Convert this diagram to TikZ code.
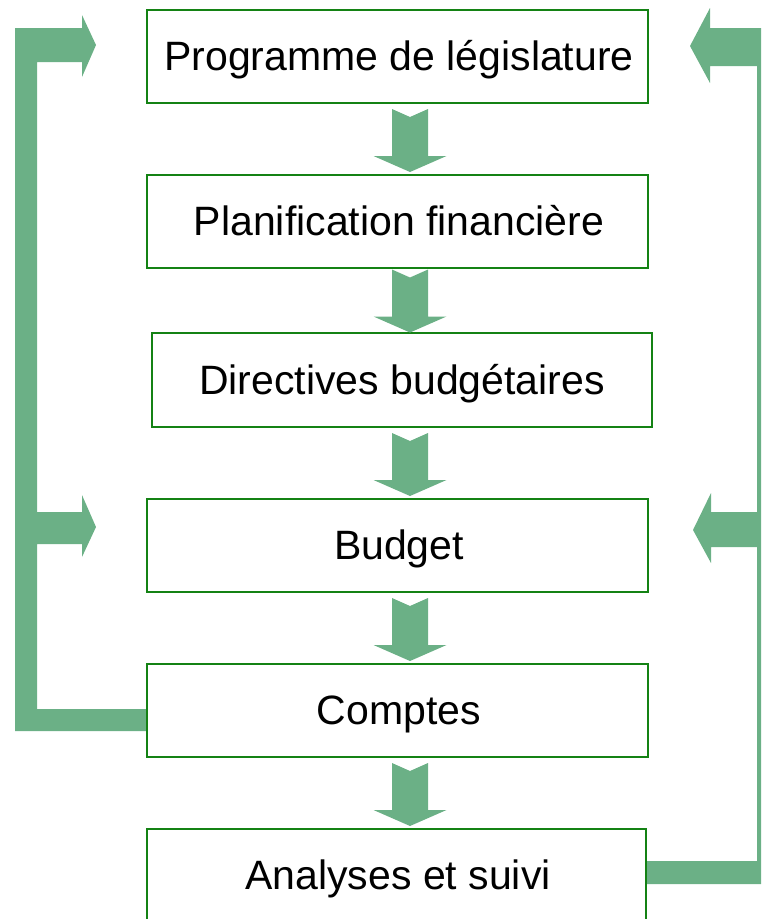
\documentclass[tikz,border=0pt]{standalone}
\usepackage{fontspec}
\setmainfont{Liberation Sans}
\definecolor{arrowgreen}{RGB}{107,176,134}
\definecolor{boxgreen}{RGB}{20,130,20}
\begin{document}
\begin{tikzpicture}[x=1pt,y=-1pt,
  box/.style={draw=boxgreen, line width=1.1pt, fill=white, inner sep=0pt,
    text height=28pt, text depth=0pt, font=\fontsize{41}{49}\selectfont},
  fat/.style={fill=arrowgreen, draw=none},
  darr/.pic={\fill[arrowgreen] (-18,-31.5) -- (0,-23.5) -- (18,-31.5) -- (18,15.5)
     -- (36.5,15.5) -- (0,31.5) -- (-36.5,15.5) -- (-18,15.5) -- cycle;}]
\useasboundingbox (0,0) rectangle (761,919);
\clip (0,0) rectangle (761,919);
% feedback connectors
\path[fat] (15,28) -- (82,28) -- (82,15) -- (96,45) -- (82,77) -- (82,62) -- (37,62)
  -- (37,512) -- (82,512) -- (82,495) -- (96,527) -- (82,557) -- (82,544) -- (37,544)
  -- (37,709) -- (148,709) -- (148,731) -- (15,731) -- cycle;
\path[fat] (647,861) -- (757,861) -- (757,547) -- (711,547) -- (711,563) -- (693,530)
  -- (711,493) -- (711,512) -- (757,512) -- (757,66) -- (710,66) -- (710,83) -- (690,46)
  -- (710,8) -- (710,28) -- (779,28) -- (779,884) -- (647,884) -- cycle;
% boxes
\node[box, minimum width=501pt, minimum height=93pt] (b1) at (397.5,56.5) {\hspace*{3pt}Programme de législature};
\node[box, minimum width=501pt, minimum height=93pt] (b2) at (397.5,221.5) {\hspace*{3pt}Planification financière};
\node[box, minimum width=500pt, minimum height=94pt] (b3) at (402,380) {Directives budgétaires};
\node[box, minimum width=501pt, minimum height=93pt] (b4) at (397.5,545.5) {\hspace*{3pt}Budget};
\node[box, minimum width=501pt, minimum height=93pt] (b5) at (397.5,710.5) {\hspace*{3pt}Comptes};
\node[box, minimum width=499pt, minimum height=93pt] (b6) at (396.5,875.5) {\hspace*{3pt}Analyses et suivi};
% down arrows
\pic at (410,140.5) {darr};
\pic at (410,301) {darr};
\pic at (410,464.5) {darr};
\pic at (410,629.5) {darr};
\pic at (410,794.5) {darr};
\end{tikzpicture}
\end{document}
